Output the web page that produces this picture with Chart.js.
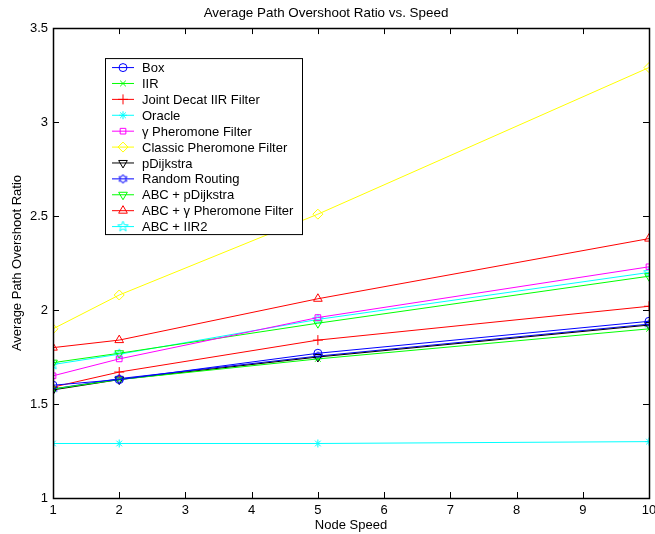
<!DOCTYPE html>
<html>
<head>
<meta charset="utf-8">
<script src="https://cdn.jsdelivr.net/npm/chart.js@4/dist/chart.umd.min.js"></script>
<style>
  html, body { margin: 0; padding: 0; background: #fff; }
  #plot { display: block; }
</style>
</head>
<body>
<canvas id="plot" width="655" height="534"></canvas>
<script>
// node speeds where each run was measured
const speeds = [1, 2, 5, 10];

const labels = [
  'Box', 'IIR', 'Joint Decat IIR Filter', 'Oracle', 'γ Pheromone Filter',
  'Classic Pheromone Filter', 'pDijkstra', 'Random Routing', 'ABC + pDijkstra',
  'ABC + γ Pheromone Filter', 'ABC + IIR2'
];

const box = [1.60, 1.63, 1.77, 1.94];
const iir = [1.58, 1.63, 1.74, 1.90];
const jointDecat = [1.59, 1.67, 1.84, 2.02];
const oracle = [1.29, 1.29, 1.29, 1.30];
const gammaPher = [1.65, 1.74, 1.96, 2.23];
const classicPher = [1.90, 2.08, 2.51, 3.29];
const pDijkstra = [1.575, 1.63, 1.75, 1.92];
const randomRouting = [1.58, 1.635, 1.755, 1.925];
const abcDijkstra = [1.72, 1.77, 1.93, 2.18];
const abcGamma = [1.80, 1.84, 2.06, 2.38];
const abcIIR2 = [1.71, 1.765, 1.95, 2.20];

const xTicks = [1, 2, 3, 4, 5, 6, 7, 8, 9, 10];
const yTicks = [1, 1.5, 2, 2.5, 3, 3.5];

const FONT = "'Liberation Sans', Arial, Helvetica, sans-serif";

// star shaped markers (matlab 'p' and 'h') drawn into little canvases
function starMarker(color, points, outer, inner) {
  let c = document.createElement('canvas');
  c.width = 13; c.height = 13;
  let g = c.getContext('2d');
  g.strokeStyle = color;
  g.lineWidth = 1;
  g.beginPath();
  for (let i = 0; i < points * 2; i++) {
    let r = i % 2 === 0 ? outer : inner;
    let a = -Math.PI / 2 + i * Math.PI / points;
    let px = 6.5 + r * Math.cos(a), py = 6.5 + r * Math.sin(a);
    if (i === 0) g.moveTo(px, py); else g.lineTo(px, py);
  }
  g.closePath();
  g.stroke();
  return c;
}

const series = [
  [box, '#0000ff', 'circle', 0, 4],
  [iir, '#00ff00', 'crossRot', 0, 4],
  [jointDecat, '#ff0000', 'cross', 0, 5],
  [oracle, '#00ffff', 'star', 0, 4],
  [gammaPher, '#ff00ff', 'rect', 0, 4],
  [classicPher, '#ffff00', 'rectRot', 0, 5],
  [pDijkstra, '#000000', 'triangle', 180, 5],
  [randomRouting, '#0000ff', starMarker('#0000ff', 6, 4.5, 2.6), 0, 5],
  [abcDijkstra, '#00ff00', 'triangle', 180, 5],
  [abcGamma, '#ff0000', 'triangle', 0, 5],
  [abcIIR2, '#00ffff', starMarker('#00ffff', 5, 5.5, 2.3), 0, 5]
];

let datasets = [];
series.forEach((s, i) => {
  datasets.push({
    label: labels[i],
    data: speeds.map((x, j) => ({x: x, y: s[0][j]})),
    borderColor: s[1],
    backgroundColor: 'rgba(0,0,0,0)',
    borderWidth: 1,
    pointStyle: s[2],
    rotation: s[3],
    pointRadius: s[4],
    pointHoverRadius: s[4],
    pointBorderColor: s[1],
    pointBorderWidth: 1,
    tension: 0
  });
});

// matlab style box with inward ticks
const axesBox = {
  id: 'axesBox',
  afterDraw(chart) {
    let ctx = chart.ctx;
    let a = chart.chartArea;
    let xs = chart.scales.x, ys = chart.scales.y;
    ctx.save();
    ctx.strokeStyle = '#000';
    ctx.lineWidth = 1;
    ctx.beginPath();
    for (let v of xTicks) {
      let px = Math.round(xs.getPixelForValue(v)) + 0.5;
      ctx.moveTo(px, a.bottom); ctx.lineTo(px, a.bottom - 6);
      ctx.moveTo(px, a.top); ctx.lineTo(px, a.top + 6);
    }
    for (let v of yTicks) {
      let py = Math.round(ys.getPixelForValue(v)) + 0.5;
      ctx.moveTo(a.left, py); ctx.lineTo(a.left + 6, py);
      ctx.moveTo(a.right, py); ctx.lineTo(a.right - 6, py);
    }
    ctx.stroke();
    ctx.lineWidth = 1.5;
    ctx.strokeRect(Math.round(a.left) + 0.5, Math.round(a.top) + 0.5,
      Math.round(a.right - a.left), Math.round(a.bottom - a.top));
    ctx.restore();
  }
};

// legend box inside the axes, top left
const boxLegend = {
  id: 'boxLegend',
  afterDraw(chart) {
    let ctx = chart.ctx;
    let a = chart.chartArea;
    let left = a.left + 52, top = a.top + 30;
    let w = 197, h = 176, rowH = 15.9;
    ctx.save();
    ctx.fillStyle = '#fff';
    ctx.fillRect(left, top, w, h);
    ctx.strokeStyle = '#000';
    ctx.lineWidth = 1;
    ctx.strokeRect(left + 0.5, top + 0.5, w, h);
    ctx.font = '13px ' + FONT;
    ctx.textBaseline = 'middle';
    chart.data.datasets.forEach((ds, i) => {
      let y = top + 9.5 + i * rowH;
      ctx.strokeStyle = ds.borderColor;
      ctx.beginPath();
      ctx.moveTo(left + 7, y); ctx.lineTo(left + 29, y);
      ctx.stroke();
      ctx.fillStyle = 'rgba(0,0,0,0)';
      Chart.helpers.drawPoint(ctx, {
        pointStyle: ds.pointStyle, rotation: ds.rotation,
        radius: ds.pointRadius, borderWidth: 1
      }, left + 18, y);
      ctx.fillStyle = '#000';
      ctx.fillText(ds.label, left + 37, y + 1);
    });
    ctx.restore();
  }
};

Chart.defaults.color = '#000';
Chart.defaults.font.family = FONT;
Chart.defaults.font.size = 13;

new Chart(document.getElementById('plot').getContext('2d'), {
  type: 'line',
  data: {datasets: datasets},
  plugins: [axesBox, boxLegend],
  options: {
    responsive: false,
    animation: false,
    layout: {padding: {left: 0, right: 3, top: 0, bottom: 0}},
    plugins: {
      legend: {display: false},
      tooltip: {enabled: false},
      title: {
        display: true,
        text: 'Average Path Overshoot Ratio vs. Speed',
        font: {size: 13.4, weight: 'normal'},
        padding: {top: 5, bottom: 7}
      }
    },
    scales: {
      x: {
        type: 'linear',
        min: 1, max: 10,
        afterBuildTicks: (s) => { s.ticks = xTicks.map(v => ({value: v})); },
        afterFit: (s) => { s.height = 36; s.paddingLeft = 0; s.paddingRight = 0; },
        grid: {display: false, drawTicks: false},
        border: {display: false},
        ticks: {padding: 5, maxRotation: 0, autoSkip: false, callback: (v) => String(v)},
        title: {display: true, text: 'Node Speed', padding: {top: 0, bottom: 1}}
      },
      y: {
        type: 'linear',
        min: 1, max: 3.5,
        afterBuildTicks: (s) => { s.ticks = yTicks.map(v => ({value: v})); },
        afterFit: (s) => { s.width = 53; },
        grid: {display: false, drawTicks: false},
        border: {display: false},
        ticks: {padding: 5, autoSkip: false, callback: (v) => String(v)},
        title: {display: true, text: 'Average Path Overshoot Ratio', padding: {top: 10, bottom: 0}}
      }
    }
  }
});
</script>
</body>
</html>
